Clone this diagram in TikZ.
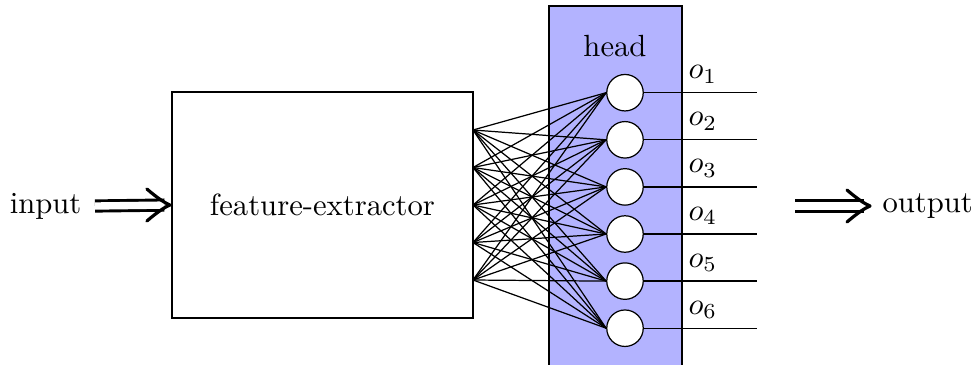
\documentclass[tikz,border=0pt]{standalone}
\usetikzlibrary{calc}
\definecolor{headfill}{RGB}{179,179,255}
\begin{document}
\begin{tikzpicture}[x=0.3263pt,y=-0.3263pt,
  neuron/.style={circle,draw,fill=white,inner sep=0pt,minimum size=11.9pt},
  shaft/.style={double,double distance=2.4pt,line width=0.95pt,shorten >=1.8pt},
  lbl/.style={inner sep=0pt},
  chevron/.pic={
    \draw[line width=1.05pt,line cap=round,line join=round]
      (-23,-16) .. controls (-12,-6.5) and (-4.5,-1.8) .. (0,0)
      .. controls (-4.5,1.8) and (-12,6.5) .. (-23,16);
  }]
\useasboundingbox (0,0) rectangle (975,364);

% head panel
\draw[fill=headfill] (549,6) rectangle (682,380);
\node[lbl,anchor=base] (headlbl) at (615,56) {head};

% feature extractor
\node[draw,minimum width=98.2pt,minimum height=73.7pt] (fe) at (322.5,205) {feature-extractor};

% feature outputs on the right edge of the extractor
\foreach \i/\y in {1/130,2/167.5,3/205,4/242.5,5/280}
  \coordinate (p\i) at (473,\y);

% output neurons with their output lines and labels
\foreach \j/\y in {1/92.7,2/139.8,3/186.9,4/234,5/281.1,6/328.2}{
  \node[neuron] (c\j) at (625,\y) {};
  \coordinate (e\j) at (757,\y);
  \draw (c\j) -- (e\j);
  \node[lbl,anchor=base west] (o\j) at (688,\y-14) {$o_{\j}$};
}

% fully connected layer
\foreach \i in {1,...,5}
  \foreach \j in {1,...,6}
    \draw (p\i) -- (c\j.west);

% input / output double arrows
\node[lbl,anchor=east] (in) at (82,206) {input};
\coordinate (ia) at ($(in.east)+(13,0)$);
\coordinate (itip) at ($(fe.west)+(-1.5,0)$);
\draw[shaft] (ia) -- (itip);
\pic at (itip) {chevron};

\node[lbl,anchor=west] (out) at (882,206) {output};
\coordinate (oa) at (795,206);
\coordinate (otip) at ($(out.west)+(-12,0)$);
\draw[shaft] (oa) -- (otip);
\pic at (otip) {chevron};
\end{tikzpicture}
\end{document}
